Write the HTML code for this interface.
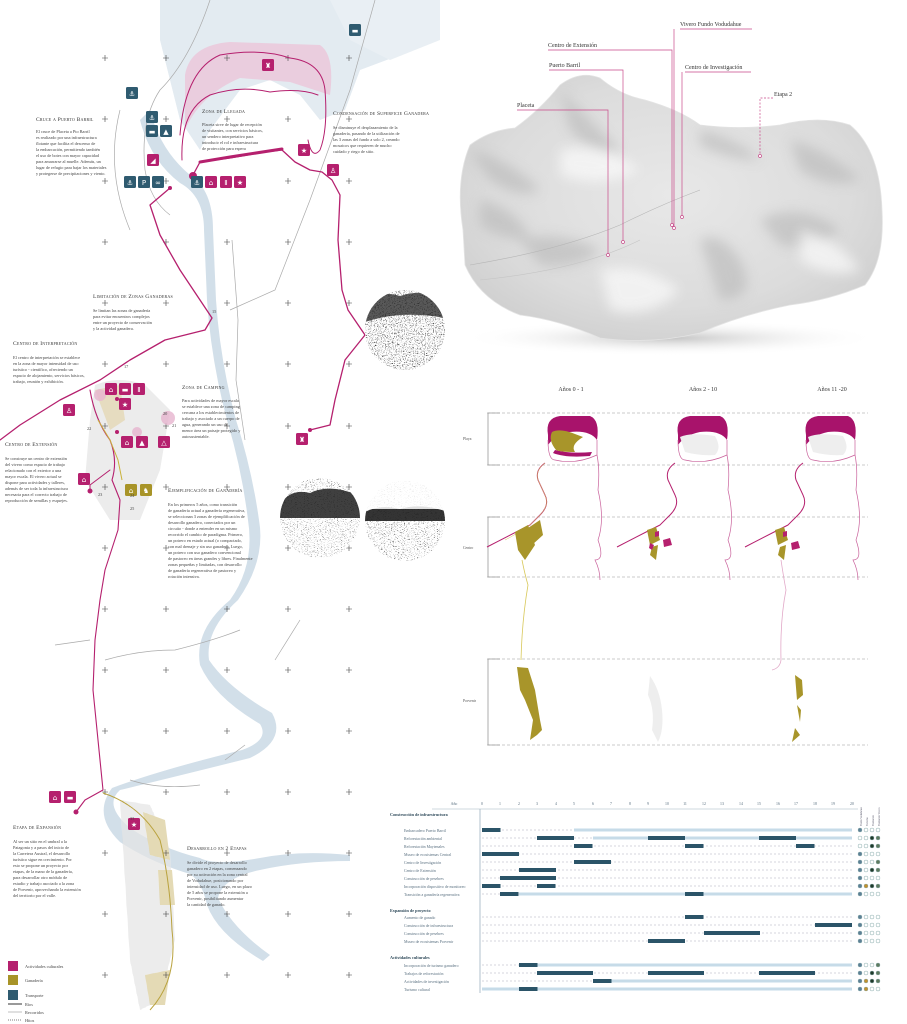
<!DOCTYPE html>
<html><head><meta charset="utf-8"><style>
html,body{margin:0;padding:0;background:#fff;}
svg{display:block;font-family:"Liberation Serif",serif;}
.h{font-size:5.6px;font-variant:small-caps;letter-spacing:.2px;fill:#333}
.b{font-size:4.3px;fill:#444}
.l{font-size:6px;fill:#333}
.g{font-size:3.9px;fill:#5a7080}
.gh{font-size:4.2px;fill:#2f4a5a;font-weight:bold}
.ic{font-size:7px;fill:#fff;text-anchor:middle;font-family:"DejaVu Sans",sans-serif}
</style></head><body>
<svg width="907" height="1024" viewBox="0 0 907 1024" xmlns="http://www.w3.org/2000/svg">
<defs>
<radialGradient id="ter" cx="50%" cy="45%" r="60%"><stop offset="0" stop-color="#e8e8e8"/><stop offset=".7" stop-color="#dcdcdc"/><stop offset="1" stop-color="#cfcfcf"/></radialGradient>
<radialGradient id="sh" cx="50%" cy="50%" r="50%"><stop offset="0" stop-color="#c4c4c4"/><stop offset="1" stop-color="#fff" stop-opacity="0"/></radialGradient>
<filter id="blur" x="-20%" y="-20%" width="140%" height="140%"><feGaussianBlur stdDeviation="6"/></filter>
<filter id="noise" x="0" y="0" width="100%" height="100%"><feTurbulence type="fractalNoise" baseFrequency="0.9" numOctaves="2" seed="3"/><feColorMatrix type="matrix" values="0 0 0 0 0  0 0 0 0 0  0 0 0 0 0  -2.2 -2.2 0 0 2.1"/></filter>
<filter id="noise2" x="0" y="0" width="100%" height="100%"><feTurbulence type="fractalNoise" baseFrequency="0.7 1.6" numOctaves="2" seed="7"/><feColorMatrix type="matrix" values="0 0 0 0 0  0 0 0 0 0  0 0 0 0 0  -2.6 -2.6 0 0 2.3"/></filter>
<clipPath id="cA"><circle cx="405" cy="330" r="40"/></clipPath>
<clipPath id="cB"><circle cx="320" cy="518" r="40"/></clipPath>
<clipPath id="cC"><circle cx="405" cy="521" r="40"/></clipPath>
<pattern id="dots" width="2" height="2" patternUnits="userSpaceOnUse"><rect width="2" height="2" fill="#eee"/><circle cx="1" cy="1" r=".4" fill="#999"/></pattern>
</defs>

<!-- ============ MAP ============ -->
<path d="M160 0 L440 0 L440 30 L400 55 L360 70 L345 110 L320 120 L300 95 L270 80 L240 90 L210 130 L200 150 L180 120 L170 80 L160 40 Z" fill="#e3ebf1"/>
<path d="M330 0 L440 0 L440 40 L390 60 L350 40 Z" fill="#e9eff4"/>
<path d="M150 110 Q160 150 190 175 Q213 190 213 230 L216 300 Q220 360 236 420 Q252 470 259 520 Q266 560 238 600 Q205 630 209 660 Q228 688 272 713 Q287 740 250 758 Q170 778 120 790 Q103 805 130 828 Q160 848 200 858 Q215 866 260 858 Q300 850 350 855 L350 861 Q300 861 260 870 Q222 878 218 898 Q232 928 270 955 L263 961 Q218 935 207 905 Q202 882 190 874 Q150 862 120 842 Q92 815 112 788 Q160 770 242 750 Q270 740 260 724 Q214 697 200 665 Q194 630 230 600 Q255 565 248 520 Q242 470 227 420 Q211 360 207 300 L204 230 Q204 196 180 183 Q150 160 140 120 Z" fill="#d2dfe9"/>
<g fill="none" stroke="#aaa" stroke-width=".7">
<path d="M210 0 Q190 60 160 90 Q140 120 145 170 Q150 200 170 215"/>
<path d="M375 0 L350 90 L310 200 L275 290 L230 310"/>
<path d="M232 240 L238 320 L236 380 L245 440"/>
<path d="M120 110 Q105 170 130 230"/>
<path d="M105 660 Q140 650 175 650 Q215 640 240 630"/>
<path d="M55 645 L90 640"/>
<path d="M130 780 Q160 790 200 785"/>
<path d="M300 620 L275 660"/>
<path d="M245 745 L225 760"/>
</g>
<path d="M95 385 Q120 375 145 385 L170 410 L160 470 L140 520 L110 520 L85 480 L90 420 Z" fill="#ececec"/>
<path d="M95 390 L120 385 L125 420 L110 430 Z" fill="#e6dcc0"/>
<path d="M120 800 L150 805 L170 850 L175 940 L160 1000 L140 1010 L130 960 L125 880 Z" fill="url(#dots)" opacity=".7"/>
<path d="M143 812 L165 820 L170 860 L150 855 Z" fill="#e4dab5"/>
<path d="M158 870 L172 870 L175 905 L160 905 Z" fill="#e4dab5"/>
<path d="M145 975 L170 970 L165 1005 L150 1005 Z" fill="#e4dab5"/>
<path d="M185 75 Q190 45 230 42 L320 45 Q335 55 330 95 L290 82 L240 78 Q200 95 185 130 Z" fill="#ebc6d9" opacity=".8"/>
<g stroke="#444" stroke-width=".6" fill="none">
<path d="M102 58h6M105 55v6M163 58h6M166 55v6M224 58h6M227 55v6M285 58h6M288 55v6M346 58h6M349 55v6
M102 119h6M105 116v6M163 119h6M166 116v6M224 119h6M227 116v6M285 119h6M288 116v6M346 119h6M349 116v6
M102 181h6M105 178v6M163 181h6M166 178v6M224 181h6M227 178v6M285 181h6M288 178v6M346 181h6M349 178v6
M102 242h6M105 239v6M163 242h6M166 239v6M224 242h6M227 239v6M285 242h6M288 239v6M346 242h6M349 239v6
M102 303h6M105 300v6M163 303h6M166 300v6M224 303h6M227 300v6M285 303h6M288 300v6M346 303h6M349 300v6
M102 364h6M105 361v6M163 364h6M166 361v6M224 364h6M227 361v6M285 364h6M288 361v6M346 364h6M349 361v6
M102 426h6M105 423v6M163 426h6M166 423v6M224 426h6M227 423v6M285 426h6M288 423v6M346 426h6M349 423v6
M102 487h6M105 484v6M163 487h6M166 484v6M224 487h6M227 484v6M285 487h6M288 484v6M346 487h6M349 484v6
M102 548h6M105 545v6M163 548h6M166 545v6M224 548h6M227 545v6M285 548h6M288 545v6M346 548h6M349 545v6
M102 609h6M105 606v6M163 609h6M166 606v6M224 609h6M227 606v6M285 609h6M288 606v6M346 609h6M349 606v6
M102 670h6M105 667v6M163 670h6M166 667v6M224 670h6M227 667v6M285 670h6M288 667v6M346 670h6M349 667v6
M102 731h6M105 728v6M163 731h6M166 728v6M224 731h6M227 728v6M285 731h6M288 728v6M346 731h6M349 728v6
M102 792h6M105 789v6M163 792h6M166 789v6M224 792h6M227 789v6M285 792h6M288 789v6M346 792h6M349 789v6
M102 853h6M105 850v6M163 853h6M166 850v6M224 853h6M227 850v6M285 853h6M288 850v6M346 853h6M349 850v6
M102 914h6M105 911v6M163 914h6M166 911v6M224 914h6M227 911v6M285 914h6M288 911v6M346 914h6M349 911v6
M102 975h6M105 972v6M163 975h6M166 972v6M224 975h6M227 972v6M285 975h6M288 972v6M346 975h6M349 972v6"/>
</g>
<g fill="none" stroke="#b5206e" stroke-linecap="round" stroke-linejoin="round">
<path d="M180 135 Q185 70 220 55 Q260 48 290 58 Q322 62 325 90 Q328 130 320 150 Q312 160 308 140" stroke-width="1"/>
<path d="M182 160 Q180 110 210 95 Q240 85 270 92 Q300 88 318 95" stroke-width="1"/>
<path d="M193 175 L200 162 L230 158 L265 152 L282 150 L295 162 L310 170 L322 172 L332 180 L340 195 L338 240 L342 290 L348 310 L365 335 L345 360 L335 400 L330 425 L310 430" stroke-width="1.3"/>
<path d="M200 162 L230 157 L282 149" stroke-width="3"/>
<path d="M170 188 L150 205 L160 235 L180 270 L200 300 L212 318 L205 330 L165 340 L130 360 L100 380 L60 400 L20 425 L0 440" stroke-width="1.3"/>
<path d="M90 390 Q95 420 110 440 Q118 460 112 480 L120 500 L118 530 L105 570 L100 600 L95 640 L93 690 L98 740 L103 790 L85 800 L76 812" stroke-width="1.1"/>
<path d="M110 470 L90 485 L90 492" stroke-width="1"/>
</g>
<path d="M98 420 L110 440 L118 460 L122 480" stroke="#c9b23b" stroke-width="1" fill="none"/>
<path d="M103 793 Q140 805 160 840 Q170 880 172 930 Q178 980 150 1010" stroke="#b9a23e" stroke-width="1" fill="none"/>
<g fill="#b5206e"><circle cx="193" cy="176" r="4"/><circle cx="170" cy="188" r="2"/><circle cx="310" cy="430" r="2"/><circle cx="76" cy="812" r="2.5"/><circle cx="90" cy="491" r="2.5"/><circle cx="117" cy="399" r="2"/><circle cx="117" cy="432" r="2"/></g>
<g fill="#e7b5cf" opacity=".8"><circle cx="100" cy="395" r="6"/><circle cx="137" cy="432" r="5"/><circle cx="168" cy="418" r="7"/></g>

<g>
<g fill="#2f5b70">
<rect x="349" y="24" width="12" height="12" rx="1.5"/><rect x="126" y="87" width="12" height="12" rx="1.5"/>
<rect x="146" y="111" width="12" height="12" rx="1.5"/><rect x="146" y="125" width="12" height="12" rx="1.5"/><rect x="160" y="125" width="12" height="12" rx="1.5"/>
<rect x="124" y="176" width="12" height="12" rx="1.5"/><rect x="138" y="176" width="12" height="12" rx="1.5"/><rect x="152" y="176" width="12" height="12" rx="1.5"/><rect x="191" y="176" width="12" height="12" rx="1.5"/>
</g>
<g fill="#b5206e">
<rect x="262" y="59" width="12" height="12" rx="1.5"/><rect x="147" y="154" width="12" height="12" rx="1.5"/>
<rect x="205" y="176" width="12" height="12" rx="1.5"/><rect x="220" y="176" width="12" height="12" rx="1.5"/><rect x="234" y="176" width="12" height="12" rx="1.5"/>
<rect x="298" y="144" width="12" height="12" rx="1.5"/><rect x="327" y="164" width="12" height="12" rx="1.5"/><rect x="296" y="433" width="12" height="12" rx="1.5"/>
<rect x="105" y="383" width="12" height="12" rx="1.5"/><rect x="119" y="383" width="12" height="12" rx="1.5"/><rect x="133" y="383" width="12" height="12" rx="1.5"/>
<rect x="119" y="398" width="12" height="12" rx="1.5"/><rect x="63" y="404" width="12" height="12" rx="1.5"/>
<rect x="121" y="436" width="12" height="12" rx="1.5"/><rect x="136" y="436" width="12" height="12" rx="1.5"/><rect x="158" y="436" width="12" height="12" rx="1.5"/>
<rect x="78" y="473" width="12" height="12" rx="1.5"/>
<rect x="49" y="791" width="12" height="12" rx="1.5"/><rect x="64" y="791" width="12" height="12" rx="1.5"/><rect x="128" y="818" width="12" height="12" rx="1.5"/>
</g>
<g fill="#a89428"><rect x="125" y="484" width="12" height="12" rx="1.5"/><rect x="140" y="484" width="12" height="12" rx="1.5"/></g>
<g class="ic">
<text x="355" y="33">▬</text><text x="132" y="96">⚓</text><text x="152" y="120">⚓</text><text x="152" y="134">▬</text><text x="166" y="134">▲</text>
<text x="130" y="185">⚓</text><text x="144" y="185">P</text><text x="158" y="185">∞</text><text x="197" y="185">⚓</text>
<text x="268" y="68">♜</text><text x="153" y="163">◢</text><text x="211" y="185">⌂</text><text x="226" y="185">Ⅱ</text><text x="240" y="185">★</text>
<text x="304" y="153">★</text><text x="333" y="173">♙</text><text x="302" y="442">♜</text>
<text x="111" y="392">⌂</text><text x="125" y="392">▬</text><text x="139" y="392">Ⅱ</text><text x="125" y="407">★</text><text x="69" y="413">♙</text>
<text x="127" y="445">⌂</text><text x="142" y="445">▲</text><text x="164" y="445">△</text><text x="84" y="482">⌂</text>
<text x="131" y="493">⌂</text><text x="146" y="493">♞</text>
<text x="55" y="800">⌂</text><text x="70" y="800">▬</text><text x="134" y="827">★</text>
</g>
</g>
<g class="b" font-size="4"><text x="212" y="313">15</text><text x="124" y="368">17</text><text x="163" y="415">20</text><text x="172" y="427">21</text><text x="87" y="430">22</text><text x="98" y="496">23</text><text x="130" y="510">25</text><text x="130" y="820">33</text><text x="130" y="497">24</text></g>

<!-- photo circles -->
<g clip-path="url(#cA)">
<rect x="365" y="290" width="80" height="80" fill="#fff"/>
<rect x="365" y="290" width="80" height="80" filter="url(#noise)"/>
<path d="M365 300 Q380 290 400 296 Q425 288 445 300 L445 318 Q400 310 365 322 Z" fill="#222" opacity=".75"/>
</g>
<g clip-path="url(#cB)">
<rect x="280" y="478" width="80" height="80" fill="#fff"/>
<rect x="280" y="478" width="80" height="80" filter="url(#noise2)"/>
<path d="M280 518 L280 505 Q290 488 310 493 Q330 483 360 496 L360 518 Z" fill="#1e1e1e" opacity=".85"/>
<rect x="280" y="518" width="80" height="40" fill="#fff" opacity=".25"/>
</g>
<g clip-path="url(#cC)">
<rect x="365" y="481" width="80" height="80" fill="#fff"/>
<rect x="365" y="481" width="80" height="80" filter="url(#noise2)"/>
<path d="M365 521 L365 512 Q380 504 400 509 Q420 503 445 511 L445 521 Z" fill="#1e1e1e" opacity=".9"/>
<rect x="365" y="481" width="80" height="28" fill="#fff" opacity=".85"/>
</g>

<!-- map texts -->
<g>
<text class="h" x="36" y="121">Cruce a Puerto Barril</text>
<g class="b"><text x="36" y="133">El cruce de Placeta a Pto Barril</text><text x="36" y="139">es realizado por una infraestructura</text><text x="36" y="145">flotante que facilita el descenso de</text><text x="36" y="151">la embarcación, permitiendo también</text><text x="36" y="157">el uso de botes con mayor capacidad</text><text x="36" y="163">para amarrarse al muelle. Además, un</text><text x="36" y="169">lugar de refugio para bajar los materiales</text><text x="36" y="175">y protegerse de precipitaciones y viento.</text></g>
<text class="h" x="202" y="113">Zona de Llegada</text>
<g class="b"><text x="202" y="126">Placeta sirve de lugar de recepción</text><text x="202" y="132">de visitantes, con servicios básicos,</text><text x="202" y="138">un sendero interpretativo para</text><text x="202" y="144">introducir el rol e infraestructura</text><text x="202" y="150">de protección para espera</text></g>
<text class="h" x="333" y="115">Condensación de Superficie Ganadera</text>
<g class="b"><text x="333" y="129">Se disminuye el desplazamiento de la</text><text x="333" y="135">ganadería, pasando de la utilización de</text><text x="333" y="141">las 3 zonas del fundo a solo 2, creando</text><text x="333" y="147">mosaicos que requieren de mucho</text><text x="333" y="153">cuidado y riego de sitio.</text></g>
<text class="h" x="93" y="298">Limitación de Zonas Ganaderas</text>
<g class="b"><text x="93" y="312">Se limitan las zonas de ganadería</text><text x="93" y="318">para evitar encuentros complejos</text><text x="93" y="324">entre un proyecto de conservación</text><text x="93" y="330">y la actividad ganadera.</text></g>
<text class="h" x="13" y="345">Centro de Interpretación</text>
<g class="b"><text x="13" y="359">El centro de interpretación se establece</text><text x="13" y="365">en la zona de mayor intensidad de uso</text><text x="13" y="371">turístico - científico, ofreciendo un</text><text x="13" y="377">espacio de alojamiento, servicios básicos,</text><text x="13" y="383">trabajo, reunión y exhibición.</text></g>
<text class="h" x="182" y="389">Zona de Camping</text>
<g class="b"><text x="182" y="402">Para actividades de mayor escala</text><text x="182" y="408">se establece una zona de camping</text><text x="182" y="414">cercana a los establecimientos de</text><text x="182" y="420">trabajo y asociado a un cuerpo de</text><text x="182" y="426">agua, generando un uso de</text><text x="182" y="432">menor área un paisaje protegido y</text><text x="182" y="438">autosustentable.</text></g>
<text class="h" x="5" y="446">Centro de Extensión</text>
<g class="b"><text x="5" y="460">Se construye un centro de extensión</text><text x="5" y="466">del vivero como espacio de trabajo</text><text x="5" y="472">relacionado con el exterior a una</text><text x="5" y="478">mayor escala. El vivero actual se</text><text x="5" y="484">dispone para actividades y talleres,</text><text x="5" y="490">además de ser toda la infraestructura</text><text x="5" y="496">necesaria para el correcto trabajo de</text><text x="5" y="502">reproducción de semillas y esquejes.</text></g>
<text class="h" x="168" y="492">Ejemplificación de Ganadería</text>
<g class="b"><text x="168" y="506">En los primeros 5 años, como transición</text><text x="168" y="512">de ganadería actual a ganadería regenerativa,</text><text x="168" y="518">se seleccionan 3 zonas de ejemplificación de</text><text x="168" y="524">desarrollo ganadero, conectados por un</text><text x="168" y="530">circuito - donde a entender en un mismo</text><text x="168" y="536">recorrido el cambio de paradigma. Primero,</text><text x="168" y="542">un potrero en estado actual (o compactado,</text><text x="168" y="548">con mal drenaje y sin uso ganadero. Luego,</text><text x="168" y="554">un potrero con uso ganadero convencional</text><text x="168" y="560">de pastoreo en áreas grandes y libres. Finalmente</text><text x="168" y="566">zonas pequeñas y limitadas, con desarrollo</text><text x="168" y="572">de ganadería regenerativa de pastoreo y</text><text x="168" y="578">rotación intensiva.</text></g>
<text class="h" x="13" y="829">Etapa de Expansión</text>
<g class="b"><text x="13" y="843">Al ser un sitio en el umbral a la</text><text x="13" y="849">Patagonia y a pasos del inicio de</text><text x="13" y="855">la Carretera Austral, el desarrollo</text><text x="13" y="861">turístico sigue en crecimiento. Por</text><text x="13" y="867">esto se propone un proyecto por</text><text x="13" y="873">etapas, de la mano de la ganadería,</text><text x="13" y="879">para desarrollar otro módulo de</text><text x="13" y="885">estudio y trabajo asociado a la zona</text><text x="13" y="891">de Porvenir, aprovechando la extensión</text><text x="13" y="897">del territorio por el valle.</text></g>
<text class="h" x="187" y="850">Desarrollo en 2 Etapas</text>
<g class="b"><text x="187" y="864">Se divide el proyecto de desarrollo</text><text x="187" y="870">ganadero en 2 etapas, comenzando</text><text x="187" y="876">por su activación en la zona central</text><text x="187" y="882">de Vodudahue, posicionando por</text><text x="187" y="888">intensidad de uso. Luego, en un plazo</text><text x="187" y="894">de 5 años se propone la extensión a</text><text x="187" y="900">Porvenir, posibilitando aumentar</text><text x="187" y="906">la cantidad de ganado.</text></g>
</g>
<g>
<rect x="8" y="961" width="10" height="10" fill="#b5206e"/><text class="b" x="25" y="968">Actividades culturales</text>
<rect x="8" y="975" width="10" height="10" fill="#a89428"/><text class="b" x="25" y="982">Ganadería</text>
<rect x="8" y="990" width="10" height="10" fill="#2f5b70"/><text class="b" x="25" y="997">Transporte</text>
<path d="M8 1004h14" stroke="#333" stroke-width="1"/><text class="b" x="25" y="1006">Ríos</text>
<path d="M8 1012h14" stroke="#999" stroke-width=".6"/><text class="b" x="25" y="1014">Recorridos</text>
<path d="M8 1020h14" stroke="#555" stroke-width=".8" stroke-dasharray="1 1"/><text class="b" x="25" y="1022">Hitos</text>
</g>

<!-- ============ 3D TERRAIN ============ -->
<ellipse cx="670" cy="338" rx="210" ry="18" fill="url(#sh)"/>
<clipPath id="tc"><path d="M463 230 Q455 180 470 145 Q490 130 515 128 Q540 110 560 85 Q580 70 600 78 Q620 95 645 100 Q680 110 700 125 Q740 130 780 125 Q820 115 850 125 Q880 150 882 210 Q885 260 865 285 Q830 300 790 305 Q740 315 700 333 Q650 345 600 338 Q560 320 520 315 Q480 300 465 265 Z"/></clipPath>
<path d="M463 230 Q455 180 470 145 Q490 130 515 128 Q540 110 560 85 Q580 70 600 78 Q620 95 645 100 Q680 110 700 125 Q740 130 780 125 Q820 115 850 125 Q880 150 882 210 Q885 260 865 285 Q830 300 790 305 Q740 315 700 333 Q650 345 600 338 Q560 320 520 315 Q480 300 465 265 Z" fill="url(#ter)" stroke="#e4e4e4" stroke-width=".8"/>
<g clip-path="url(#tc)">
<g fill="#b8b8b8" opacity=".6" filter="url(#blur)">
<path d="M470 150 Q510 160 540 190 Q520 200 490 180 Z"/><path d="M560 90 Q590 120 620 150 Q600 160 570 130 Z"/>
<path d="M700 130 Q740 140 760 160 Q730 160 700 145 Z"/><path d="M790 140 Q830 150 860 180 Q830 190 800 170 Z"/>
<path d="M700 240 Q720 230 740 260 Q760 300 720 300 Z"/><path d="M760 220 Q800 200 840 230 Q820 250 780 245 Z"/>
<path d="M520 240 Q560 230 600 250 Q580 270 540 265 Z"/><path d="M480 200 Q520 210 530 240 Q500 240 480 225 Z"/>
</g>
<g fill="#fafafa" opacity=".7" filter="url(#blur)">
<path d="M600 270 Q640 260 680 290 Q650 320 610 310 Z"/><path d="M800 230 Q840 240 860 270 Q830 280 800 260 Z"/><path d="M560 150 Q600 140 640 170 Q600 190 560 175 Z"/>
</g>
</g>
<path d="M470 265 Q560 250 620 225 Q660 205 700 190" stroke="#b5b5b5" stroke-width=".6" fill="none"/>
<path d="M480 280 Q580 270 640 240" stroke="#c5c5c5" stroke-width=".6" fill="none"/>
<g fill="none" stroke="#c94a8a" stroke-width=".7">
<path d="M680 29 H752 M674 29 V228"/>
<path d="M548 50 H672 V225"/>
<path d="M549 70 H623 V242"/>
<path d="M685 72 H751 M682 72 V217"/>
<path d="M517 110 H608 V255"/>
<path d="M773 98 H760 V156" stroke-dasharray="2 1.5"/>
</g>
<g fill="#fff" stroke="#c94a8a" stroke-width=".7"><circle cx="674" cy="228" r="1.5"/><circle cx="672" cy="225" r="1.5"/><circle cx="623" cy="242" r="1.5"/><circle cx="682" cy="217" r="1.5"/><circle cx="608" cy="255" r="1.5"/><circle cx="760" cy="156" r="1.5"/></g>
<g class="l"><text x="680" y="26">Vivero Fundo Vodudahue</text><text x="548" y="47">Centro de Extensión</text><text x="549" y="67">Puerto Barril</text><text x="685" y="69">Centro de Investigación</text><text x="517" y="107">Placeta</text><text x="774" y="96">Etapa 2</text></g>

<!-- ============ PHASES ============ -->
<g class="l" text-anchor="middle"><text x="571" y="391">Años 0 - 1</text><text x="703" y="391">Años 2 - 10</text><text x="832" y="391">Años 11 -20</text></g>
<g stroke="#bbb" stroke-width=".7" fill="none" stroke-dasharray="3 2">
<path d="M487 413H868M487 465H868M487 517H868M487 577H868M487 659H868M487 745H868"/>
</g>
<g stroke="#999" stroke-width=".8" fill="none"><path d="M500 413H488V465H500M500 517H488V577H500M500 659H488V745H500"/></g>
<g font-size="3.8" fill="#555" font-family="Liberation Serif,serif"><text x="463" y="440">Playa</text><text x="463" y="549">Centro</text><text x="463" y="702">Porvenir</text></g>
<path d="M548 435 Q545 418 560 416 L590 416 Q600 420 597 440 Q590 430 570 432 Q555 435 548 445 Z" fill="#a8136b"/>
<path d="M548 440 Q548 460 555 460 Q575 465 597 455 L597 440" fill="none" stroke="#c9619b" stroke-width=".7"/>
<path d="M553 453 Q565 458 590 456 L592 452 Q570 454 555 450 Z" fill="#a8136b"/>
<path d="M597 455 Q600 470 598 490 Q605 520 598 540 Q605 560 595 560 Q600 570 600 580" fill="none" stroke="#c9619b" stroke-width=".7"/>
<path d="M552 432 Q560 428 575 434 L583 437 Q570 445 575 452 Q560 452 556 450 Q548 440 552 432 Z" fill="#a8952a"/>
<path d="M545 463 Q535 470 538 480 L545 495 Q550 505 540 515 L530 525 Q510 535 487 547" fill="none" stroke="#b5206e" stroke-width="1"/>
<path d="M545 463 Q535 470 538 480 L545 495 Q550 505 540 515 L530 525 Q515 535 505 540" fill="none" stroke="#d8c85a" stroke-width=".5"/>
<path d="M515 532 L528 525 L535 545 L525 560 L518 550 Z M528 528 L540 520 L543 535 L532 545 Z" fill="#a8952a"/>
<path d="M522 560 Q525 575 528 585 Q522 620 521 660" fill="none" stroke="#d8c85a" stroke-width=".8"/>
<path d="M517 667 L528 668 L535 690 L540 720 L542 730 L537 735 L530 740 L533 720 L525 700 L520 690 Z" fill="#a8952a"/>
<path d="M678 435 Q675 418 690 416 L720 416 Q730 420 727 440 Q720 430 700 432 Q685 435 678 445 Z" fill="#a8136b"/>
<path d="M680 437 Q690 432 715 436 Q722 448 715 455 Q700 456 685 452 Z" fill="#eee"/>
<path d="M678 440 Q678 460 685 460 Q705 465 727 455 L727 440" fill="none" stroke="#c9619b" stroke-width=".7"/>
<path d="M727 455 Q730 470 728 490 Q735 520 728 540 Q735 560 725 560 Q730 570 730 580" fill="none" stroke="#c9619b" stroke-width=".7"/>
<path d="M675 463 Q665 470 668 480 L675 495 Q680 505 670 515 L660 525 Q640 535 617 547" fill="none" stroke="#b5206e" stroke-width="1"/>
<path d="M647 530 L656 527 L660 540 L650 545 Z M652 547 L658 545 L656 560 L650 555 Z" fill="#a8952a"/>
<path d="M655 532 L659 531 L659 536 L655 537 Z M650 543 L654 545 L652 550 L649 548 Z M663 540 L670 538 L672 545 L664 547 Z" fill="#b5206e"/>
<path d="M650 676 Q660 690 662 710 Q664 730 658 742 L652 730 Q655 710 648 695 Z" fill="#eee"/>
<path d="M806 435 Q803 418 818 416 L848 416 Q858 420 855 440 Q848 430 828 432 Q813 435 806 445 Z" fill="#a8136b"/>
<path d="M808 437 Q818 432 843 436 Q850 448 843 455 Q828 456 813 452 Z" fill="#eee"/>
<path d="M806 440 Q806 460 813 460 Q833 465 855 455 L855 440" fill="none" stroke="#c9619b" stroke-width=".7"/>
<path d="M855 455 Q858 470 856 490 Q863 520 856 540 Q863 560 853 560 Q858 570 858 580" fill="none" stroke="#c9619b" stroke-width=".7"/>
<path d="M803 463 Q793 470 796 480 L803 495 Q808 505 798 515 L788 525 Q768 535 745 547" fill="none" stroke="#b5206e" stroke-width="1"/>
<path d="M775 530 L784 527 L788 540 L778 545 Z M780 547 L786 545 L784 560 L778 555 Z" fill="#a8952a"/>
<path d="M783 532 L787 531 L787 536 L783 537 Z M791 543 L798 541 L800 548 L792 550 Z" fill="#b5206e"/>
<path d="M781 560 Q784 580 786 590 Q780 620 781 660 Q780 668 772 670" fill="none" stroke="#e2a9c8" stroke-width=".8"/>
<path d="M795 675 L802 680 L803 695 L797 700 Z M797 705 L801 710 L800 722 Z M795 728 L800 735 L792 742 Z" fill="#a8952a"/>

<!-- ============ GANTT ============ -->
<g class="g" text-anchor="middle">
<text x="454" y="805">Año</text>
<text x="482" y="805">0</text><text x="500" y="805">1</text><text x="519" y="805">2</text><text x="537" y="805">3</text><text x="556" y="805">4</text><text x="574" y="805">5</text><text x="593" y="805">6</text><text x="611" y="805">7</text><text x="630" y="805">8</text><text x="648" y="805">9</text><text x="667" y="805">10</text><text x="685" y="805">11</text><text x="704" y="805">12</text><text x="722" y="805">13</text><text x="741" y="805">14</text><text x="759" y="805">15</text><text x="778" y="805">16</text><text x="796" y="805">17</text><text x="815" y="805">18</text><text x="833" y="805">19</text><text x="852" y="805">20</text>
</g>
<path d="M432 809H858" stroke="#9fb3c0" stroke-width=".6"/>
<path d="M480 809V993" stroke="#9fb3c0" stroke-width=".8"/>
<g stroke="#aab" stroke-width=".5" stroke-dasharray="2 2">
<path d="M482 830H852M482 838H852M482 846H852M482 854H852M482 862H852M482 870H852M482 878H852M482 886H852M482 894H852M482 917H852M482 925H852M482 933H852M482 941H852M482 965H852M482 973H852M482 981H852M482 989H852"/>
</g>
<g fill="#c6dbe8">
<rect x="574" y="828.5" width="278" height="3"/><rect x="593" y="836.5" width="259" height="3"/><rect x="519" y="892.5" width="333" height="3"/>
<rect x="537" y="963.5" width="315" height="3"/><rect x="611" y="979.5" width="241" height="3"/><rect x="482" y="987.5" width="370" height="3"/>
</g>
<g fill="#2b5468">
<rect x="482" y="828" width="18.5" height="4"/>
<rect x="537" y="836" width="37" height="4"/><rect x="648" y="836" width="37" height="4"/><rect x="759" y="836" width="37" height="4"/>
<rect x="574" y="844" width="18.5" height="4"/><rect x="685" y="844" width="18.5" height="4"/><rect x="796" y="844" width="18.5" height="4"/>
<rect x="482" y="852" width="37" height="4"/>
<rect x="574" y="860" width="37" height="4"/>
<rect x="519" y="868" width="37" height="4"/>
<rect x="500" y="876" width="56" height="4"/>
<rect x="482" y="884" width="18.5" height="4"/><rect x="537" y="884" width="18.5" height="4"/>
<rect x="500" y="892" width="18.5" height="4"/><rect x="685" y="892" width="18.5" height="4"/>
<rect x="685" y="915" width="18.5" height="4"/>
<rect x="815" y="923" width="37" height="4"/>
<rect x="704" y="931" width="56" height="4"/>
<rect x="648" y="939" width="37" height="4"/>
<rect x="519" y="963" width="18.5" height="4"/>
<rect x="537" y="971" width="56" height="4"/><rect x="648" y="971" width="56" height="4"/><rect x="759" y="971" width="56" height="4"/>
<rect x="593" y="979" width="18.5" height="4"/>
<rect x="519" y="987" width="18.5" height="4"/>
</g>
<g class="gh"><text x="390" y="816">Construcción de infraestructura</text><text x="390" y="912">Expansión de proyecto</text><text x="390" y="959">Actividades culturales</text></g>
<g class="g">
<text x="404" y="832">Embarcadero Puerto Barril</text><text x="404" y="840">Reforestación ambiental</text><text x="404" y="848">Reforestación Maytenales</text><text x="404" y="856">Museo de ecosistemas Central</text><text x="404" y="864">Centro de Investigación</text><text x="404" y="872">Centro de Extensión</text><text x="404" y="880">Construcción de pesebres</text><text x="404" y="888">Incorporación dispositivo de monitoreo</text><text x="404" y="896">Transición a ganadería regenerativa</text>
<text x="404" y="919">Aumento de ganado</text><text x="404" y="927">Construcción de infraestructura</text><text x="404" y="935">Construcción de pesebres</text><text x="404" y="943">Museo de ecosistemas Porvenir</text>
<text x="404" y="967">Incorporación de turismo ganadero</text><text x="404" y="975">Trabajos de reforestación</text><text x="404" y="983">Actividades de investigación</text><text x="404" y="991">Turismo cultural</text>
</g>
<g stroke="#8aa" stroke-width=".5">
<g fill="#fff">
<circle cx="866" cy="830" r="2"/><circle cx="872" cy="830" r="2"/><circle cx="878" cy="830" r="2"/>
<circle cx="860" cy="838" r="2"/><circle cx="866" cy="838" r="2"/><circle cx="860" cy="846" r="2"/><circle cx="866" cy="846" r="2"/>
<circle cx="866" cy="854" r="2"/><circle cx="872" cy="854" r="2"/><circle cx="878" cy="854" r="2"/>
<circle cx="866" cy="862" r="2"/><circle cx="872" cy="862" r="2"/><circle cx="866" cy="870" r="2"/>
<circle cx="866" cy="878" r="2"/><circle cx="872" cy="878" r="2"/><circle cx="878" cy="878" r="2"/>
<circle cx="866" cy="894" r="2"/><circle cx="872" cy="894" r="2"/><circle cx="878" cy="894" r="2"/>
<circle cx="866" cy="917" r="2"/><circle cx="872" cy="917" r="2"/><circle cx="878" cy="917" r="2"/>
<circle cx="866" cy="925" r="2"/><circle cx="872" cy="925" r="2"/><circle cx="878" cy="925" r="2"/>
<circle cx="866" cy="933" r="2"/><circle cx="872" cy="933" r="2"/><circle cx="878" cy="933" r="2"/>
<circle cx="866" cy="941" r="2"/><circle cx="872" cy="941" r="2"/><circle cx="878" cy="941" r="2"/>
<circle cx="866" cy="965" r="2"/><circle cx="872" cy="965" r="2"/><circle cx="866" cy="973" r="2"/>
<circle cx="872" cy="989" r="2"/><circle cx="878" cy="989" r="2"/>
</g>
<g fill="#5c7f96">
<circle cx="860" cy="830" r="2"/><circle cx="860" cy="854" r="2"/><circle cx="860" cy="862" r="2"/><circle cx="860" cy="870" r="2"/><circle cx="860" cy="878" r="2"/><circle cx="860" cy="886" r="2"/><circle cx="860" cy="894" r="2"/>
<circle cx="860" cy="917" r="2"/><circle cx="860" cy="925" r="2"/><circle cx="860" cy="933" r="2"/><circle cx="860" cy="941" r="2"/>
<circle cx="860" cy="965" r="2"/><circle cx="860" cy="973" r="2"/><circle cx="860" cy="981" r="2"/><circle cx="860" cy="989" r="2"/>
</g>
<g fill="#c4902a"><circle cx="866" cy="886" r="2"/><circle cx="866" cy="981" r="2"/><circle cx="866" cy="989" r="2"/></g>
<g fill="#1f3a2a"><circle cx="872" cy="838" r="2"/><circle cx="872" cy="846" r="2"/><circle cx="872" cy="870" r="2"/><circle cx="872" cy="886" r="2"/><circle cx="872" cy="973" r="2"/><circle cx="872" cy="981" r="2"/></g>
<g fill="#5e7a5e"><circle cx="878" cy="838" r="2"/><circle cx="878" cy="846" r="2"/><circle cx="878" cy="862" r="2"/><circle cx="878" cy="870" r="2"/><circle cx="878" cy="886" r="2"/><circle cx="878" cy="965" r="2"/><circle cx="878" cy="973" r="2"/><circle cx="878" cy="981" r="2"/></g>
</g>
<g font-size="2.6" fill="#667" font-family="Liberation Serif,serif">
<text transform="translate(862,826) rotate(-90)">Fundo Vodudahue</text><text transform="translate(868,826) rotate(-90)">Turismo</text><text transform="translate(874,826) rotate(-90)">Fundación</text><text transform="translate(880,826) rotate(-90)">Fundación Vivero</text>
</g>
</svg>
</body></html>
